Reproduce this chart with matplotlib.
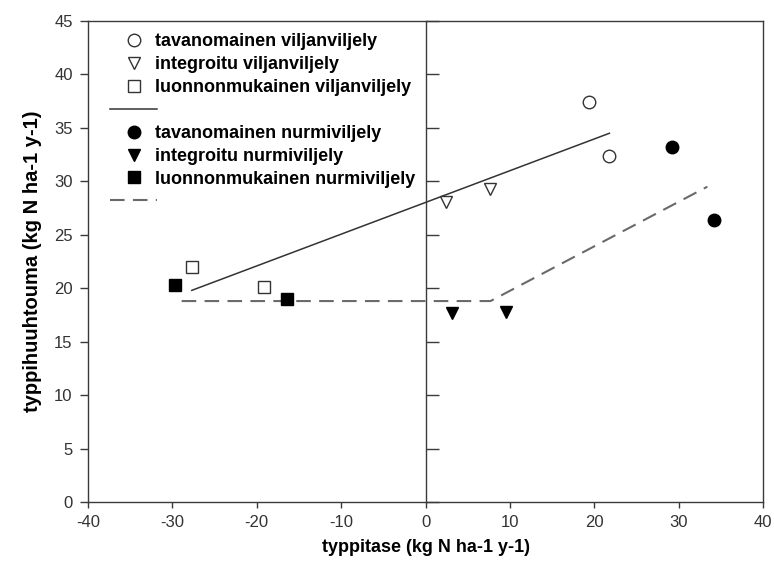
"""
Typpitase vs. typpihuuhtouma - viljan- ja nurmiviljely
"""

import matplotlib
matplotlib.use("Agg")
import matplotlib.pyplot as plt
from matplotlib.lines import Line2D

plt.rcParams['font.family'] = ['Liberation Sans', 'DejaVu Sans']
plt.rcParams['axes.unicode_minus'] = False

# viljanviljely (avoimet merkit)
tav_vilja_x = [19.4, 21.7]
tav_vilja_y = [37.4, 32.4]
int_vilja_x = [2.4, 7.7]
int_vilja_y = [28.1, 29.3]
luo_vilja_x = [-27.7, -19.2]
luo_vilja_y = [22.0, 20.1]

# nurmiviljely (täytetyt merkit)
tav_nurmi_x = [29.2, 34.2]
tav_nurmi_y = [33.2, 26.4]
int_nurmi_x = [3.1, 9.5]
int_nurmi_y = [17.7, 17.8]
luo_nurmi_x = [-29.7, -16.4]
luo_nurmi_y = [20.3, 19.0]

# sovitetut viivat
vilja_line_x = [-27.7, 21.8]
vilja_line_y = [19.8, 34.5]
nurmi_line_x = [-28.9, 7.7, 33.4]
nurmi_line_y = [18.8, 18.8, 29.5]

labels = [
    'tavanomainen viljanviljely',
    'integroitu viljanviljely',
    'luonnonmukainen viljanviljely',
    'tavanomainen nurmiviljely',
    'integroitu nurmiviljely',
    'luonnonmukainen nurmiviljely',
]

x_ticks = [-40, -30, -20, -10, 0, 10, 20, 30, 40]
y_ticks = [0, 5, 10, 15, 20, 25, 30, 35, 40, 45]

AXIS_COL = '#3a3a3a'
MS = 9


def main():
    fig = plt.figure(figsize=(7.74, 5.65), dpi=100)
    ax = fig.add_axes([0.1137, 0.1115, 0.8721, 0.8513])

    # viivat
    ax.plot(vilja_line_x, vilja_line_y, '-', color='#333333', lw=1.1)
    ax.plot(nurmi_line_x, nurmi_line_y, color='#6a6a6a', lw=1.5, dashes=(7, 4))

    open_kw = dict(linestyle='none', markersize=MS, markerfacecolor='white',
                   markeredgecolor='#333333', markeredgewidth=1.0)
    fill_kw = dict(linestyle='none', markersize=MS, color='black')

    ax.plot(tav_vilja_x, tav_vilja_y, marker='o', **open_kw)
    ax.plot(int_vilja_x, int_vilja_y, marker='v', **open_kw)
    ax.plot(luo_vilja_x, luo_vilja_y, marker='s', **open_kw)
    ax.plot(tav_nurmi_x, tav_nurmi_y, marker='o', **fill_kw)
    ax.plot(int_nurmi_x, int_nurmi_y, marker='v', **fill_kw)
    ax.plot(luo_nurmi_x, luo_nurmi_y, marker='s', **fill_kw)

    ax.set_xlim(-40, 40)
    ax.set_ylim(0, 45)
    ax.set_xticks(x_ticks)
    ax.set_yticks(y_ticks)

    for sp in ax.spines.values():
        sp.set_color(AXIS_COL)
        sp.set_linewidth(1.0)
    ax.tick_params(axis='both', direction='out', width=1, color=AXIS_COL,
                   labelsize=12, labelcolor='#333333')
    ax.tick_params(axis='x', length=4, pad=5)
    ax.tick_params(axis='y', length=6, pad=5)

    # pystyakseli kohdassa x = 0, tikit oikealle
    mid = ax.secondary_yaxis(0.5)
    for sp in mid.spines.values():
        sp.set_color(AXIS_COL)
        sp.set_linewidth(1.0)
    mid.set_yticks(y_ticks)
    mid.tick_params(axis='y', length=9, width=1, color=AXIS_COL,
                    labelleft=False, labelright=False)

    ax.set_xlabel('typpitase (kg N ha-1 y-1)', fontsize=13, fontweight='bold',
                  labelpad=7)
    ax.set_ylabel('typpihuuhtouma (kg N ha-1 y-1)', fontsize=14.5,
                  fontweight='bold', labelpad=9)

    # selite
    handles = [
        Line2D([], [], marker='o', **open_kw),
        Line2D([], [], marker='v', **open_kw),
        Line2D([], [], marker='s', **open_kw),
        Line2D([], [], color='#333333', lw=1.1),
        Line2D([], [], marker='o', **fill_kw),
        Line2D([], [], marker='v', **fill_kw),
        Line2D([], [], marker='s', **fill_kw),
        Line2D([], [], color='#6a6a6a', lw=1.5, dashes=(7, 4)),
    ]
    leg_labels = labels[:3] + [''] + labels[3:] + ['']
    ax.legend(handles, leg_labels, loc='upper left',
              bbox_to_anchor=(0.033, 0.975), frameon=False,
              prop={'size': 13, 'weight': 'bold'},
              handlelength=2.6, handletextpad=-0.15, labelspacing=0.33,
              borderpad=0, borderaxespad=0)

    plt.savefig('out.png', dpi=100)


if __name__ == "__main__":
    main()
